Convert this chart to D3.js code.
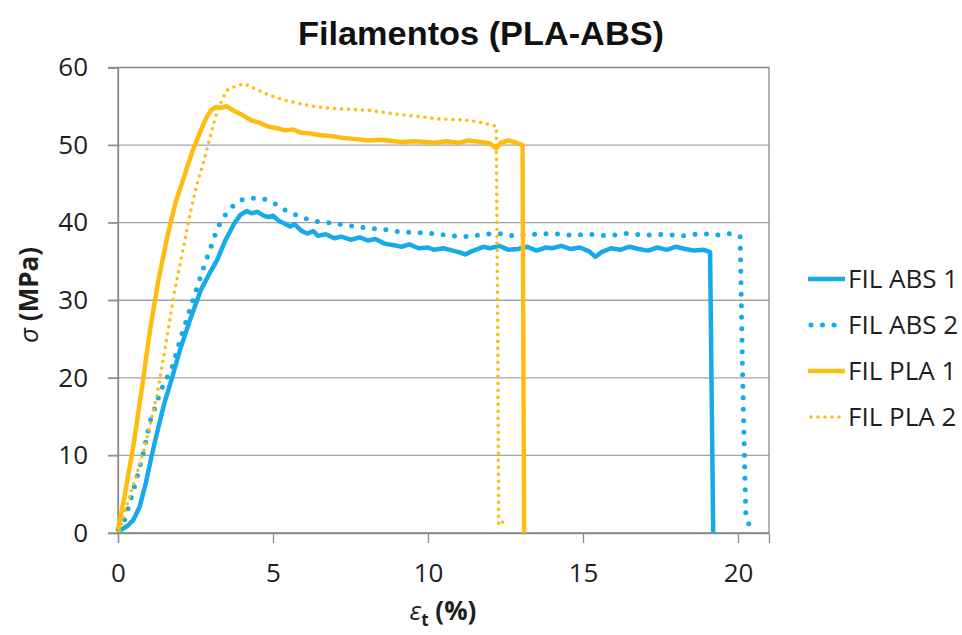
<!DOCTYPE html>
<html>
<head>
<meta charset="utf-8">
<script src="https://cdn.jsdelivr.net/npm/d3@7"></script>
<style>
  body { margin: 0; background: #fff; }
</style>
</head>
<body>
<div id="plt"></div>
<script>
// series names and tick values
var seriesNames = ["FIL ABS 1", "FIL ABS 2", "FIL PLA 1", "FIL PLA 2"];
var xTicks = [0, 5, 10, 15, 20];
var yTicks = [0, 10, 20, 30, 40, 50, 60];

// [strain %, stress MPa]
var abs1 = [[0,0.3],[0.1,0.4],[0.3,0.9],[0.5,1.7],[0.7,3.4],[0.9,6.5],[1.1,10.2],[1.3,13.6],[1.5,16.8],[1.75,20.1],
  [2.0,23.6],[2.3,27.2],[2.67,31.3],[3.0,33.8],[3.2,35.2],[3.45,37.6],[3.75,39.9],[3.95,41.0],[4.15,41.5],[4.3,41.2],
  [4.5,41.4],[4.7,40.9],[4.85,40.7],[5.0,40.9],[5.2,40.2],[5.37,39.9],[5.55,39.5],[5.7,39.8],[5.9,39.0],[6.1,38.6],
  [6.3,38.9],[6.45,38.3],[6.7,38.5],[6.98,38.0],[7.2,38.2],[7.5,37.8],[7.8,38.1],[8.06,37.7],[8.3,37.9],[8.6,37.3],
  [8.9,37.1],[9.14,36.9],[9.4,37.2],[9.7,36.7],[10.0,36.8],[10.2,36.5],[10.5,36.7],[10.8,36.4],[11.0,36.2],[11.2,35.9],
  [11.4,36.3],[11.6,36.6],[11.8,36.9],[12.0,36.7],[12.3,37.0],[12.6,36.5],[12.9,36.6],[13.2,36.9],[13.5,36.4],[13.8,36.8],
  [14.0,36.7],[14.3,37.0],[14.6,36.6],[14.9,36.8],[15.2,36.3],[15.4,35.6],[15.6,36.2],[15.9,36.7],[16.2,36.5],[16.5,36.9],
  [16.8,36.6],[17.1,36.4],[17.4,36.8],[17.7,36.5],[18.0,36.9],[18.3,36.6],[18.6,36.4],[18.9,36.5],[19.1,36.2],[19.2,0]];

var abs2 = [[0,0.5],[0.2,1.5],[0.5,5.5],[0.8,10.0],[1.05,14.6],[1.4,18.5],[1.75,21.4],[2.05,25.5],[2.35,29.2],[2.7,33.5],
  [3.0,36.9],[3.2,39.2],[3.42,40.8],[3.7,42.1],[3.96,42.9],[4.2,43.2],[4.5,43.1],[4.75,43.0],[5.04,42.5],[5.3,41.8],
  [5.6,41.2],[5.9,40.8],[6.2,40.3],[6.5,40.1],[6.98,39.9],[7.5,39.6],[8.06,39.3],[8.6,39.1],[9.14,38.8],[9.7,38.7],
  [10.2,38.6],[10.7,38.3],[11.3,38.2],[11.8,38.5],[12.3,38.6],[12.8,38.3],[13.4,38.5],[14.0,38.6],[14.6,38.4],[15.2,38.5],
  [15.8,38.3],[16.4,38.6],[17.0,38.4],[17.6,38.5],[18.2,38.3],[18.8,38.6],[19.4,38.4],[19.8,38.6],[20.07,38.2],[20.15,20.0],
  [20.25,2.6],[20.36,1.0]];

var pla1 = [[0,0.4],[0.2,4.5],[0.51,11.6],[0.8,19.5],[1.05,26.6],[1.3,32.5],[1.59,38.2],[1.85,42.5],[2.13,45.9],[2.4,49.2],
  [2.67,51.9],[2.85,53.5],[3.0,54.5],[3.15,54.9],[3.32,54.8],[3.5,55.0],[3.75,54.4],[4.0,53.9],[4.29,53.2],[4.55,52.9],
  [4.83,52.4],[5.1,52.2],[5.4,51.9],[5.65,52.0],[5.9,51.6],[6.2,51.5],[6.5,51.3],[6.98,51.1],[7.3,50.9],[7.6,50.8],
  [8.06,50.6],[8.5,50.7],[9.14,50.4],[9.6,50.5],[10.2,50.3],[10.6,50.5],[11.0,50.3],[11.3,50.6],[11.7,50.4],[12.0,50.2],
  [12.2,49.6],[12.35,50.3],[12.6,50.6],[12.85,50.3],[13.05,50.0],[13.1,0]];

var pla2 = [[0.05,0.3],[0.3,3.8],[0.6,7.5],[0.84,10.7],[1.05,14.2],[1.27,18.0],[1.55,24.5],[1.81,30.9],[2.1,36.6],[2.35,41.6],
  [2.55,45.0],[2.78,48.1],[3.0,51.5],[3.21,54.5],[3.4,56.2],[3.53,57.1],[3.8,57.6],[4.07,57.9],[4.3,57.5],[4.5,57.1],
  [4.9,56.4],[5.37,55.8],[5.9,55.3],[6.45,54.9],[7.0,54.7],[7.5,54.6],[8.06,54.5],[8.6,54.2],[9.14,53.9],[9.7,53.7],
  [10.2,53.4],[10.8,53.3],[11.3,53.2],[11.7,52.9],[12.05,52.6],[12.2,52.4],[12.25,26],[12.28,1.0],[12.4,1.3],[12.45,2.0]];

var seriesData = [abs1, abs2, pla1, pla2];

// styles per series
var blue = "#16abe8", gold = "#fdbd10";
var styles = [
  {color: blue, width: 4.5, dash: null},
  {color: blue, width: 5, dash: "0,11.5"},
  {color: gold, width: 4.5, dash: null},
  {color: gold, width: 3.6, dash: "0,7"}
];

var margin = {top: 67.5, right: 193, bottom: 102, left: 118};
var W = 962, H = 635;
var width = W - margin.left - margin.right;
var height = H - margin.top - margin.bottom;
var labelFont = "'Open Sans', 'Liberation Sans', sans-serif";

var svg = d3.select("#plt")
            .append("svg")
            .attr("width", W)
            .attr("height", H)
            .style("font-family", labelFont);

var g = svg.append("g")
           .attr("transform", "translate(" + margin.left + "," + margin.top + ")");

var x = d3.scaleLinear().domain([0, 21]).range([0, width]);
var y = d3.scaleLinear().domain([0, 60]).range([height, 0]);

// gridlines
g.selectAll(".grid")
 .data(yTicks)
 .enter()
 .append("line")
 .attr("x1", -10)
 .attr("x2", width)
 .attr("y1", function(d) { return y(d); })
 .attr("y2", function(d) { return y(d); })
 .attr("stroke", "#a3a3a3")
 .attr("stroke-width", 1.3);

// plot border
g.append("rect")
 .attr("width", width)
 .attr("height", height)
 .attr("fill", "none")
 .attr("stroke", "#8c8c8c")
 .attr("stroke-width", 1.3);

// y axis
var yAxis = g.append("g")
  .call(d3.axisLeft(y).tickValues(yTicks).tickSize(10).tickPadding(20));
yAxis.select(".domain").attr("stroke", "#8c8c8c").attr("stroke-width", 1.3);
yAxis.selectAll(".tick line").attr("stroke", "#8c8c8c").attr("stroke-width", 1.3);
yAxis.selectAll("text").style("font-size", "26px").style("font-family", labelFont).attr("fill", "#1e1e1e");

// x axis
var xAxis = g.append("g")
  .attr("transform", "translate(0," + height + ")")
  .call(d3.axisBottom(x).tickValues(xTicks).tickSize(10).tickPadding(21));
xAxis.select(".domain").attr("stroke", "#8c8c8c").attr("stroke-width", 1.3);
xAxis.selectAll(".tick line").attr("stroke", "#8c8c8c").attr("stroke-width", 1.3);
xAxis.selectAll("text").style("font-size", "26px").style("font-family", labelFont).attr("fill", "#1e1e1e");

// curves
var line = d3.line()
  .x(function(d) { return x(d[0]); })
  .y(function(d) { return y(d[1]); });

seriesData.forEach(function(data, i) {
  var s = styles[i];
  g.append("path")
   .datum(data)
   .attr("d", line)
   .attr("fill", "none")
   .attr("stroke", s.color)
   .attr("stroke-width", s.width)
   .attr("stroke-linejoin", "round")
   .attr("stroke-linecap", s.dash ? "round" : "butt")
   .attr("stroke-dasharray", s.dash);
});

// title
svg.append("text")
   .attr("x", 481)
   .attr("y", 45)
   .attr("text-anchor", "middle")
   .style("font-family", "'Liberation Sans', Arial, sans-serif")
   .style("font-weight", "bold")
   .style("font-size", "34px")
   .attr("fill", "#111")
   .attr("textLength", 366)
   .attr("lengthAdjust", "spacingAndGlyphs")
   .text("Filamentos (PLA-ABS)");

// x axis title
var xt = svg.append("text")
   .attr("x", 443)
   .attr("y", 620)
   .attr("text-anchor", "middle")
   .attr("fill", "#1e1e1e")
   .style("font-size", "26px")
   .style("font-weight", "bold");
xt.append("tspan").style("font-style", "italic").style("font-weight", "normal").text("ε");
xt.append("tspan").style("font-size", "17px").attr("dy", 6).text("t");
xt.append("tspan").attr("dy", -6).text(" (%)");

// y axis title
var yt = svg.append("text")
   .attr("transform", "translate(38,295) rotate(-90)")
   .attr("text-anchor", "middle")
   .attr("fill", "#1e1e1e")
   .style("font-size", "26px")
   .style("font-weight", "bold");
yt.append("tspan").style("font-style", "italic").style("font-weight", "normal").text("σ");
yt.append("tspan").text(" (MPa)");

// legend
var legend = svg.selectAll(".legend")
  .data(seriesNames)
  .enter()
  .append("g")
  .attr("transform", function(d, i) { return "translate(808," + (279 + i * 46) + ")"; });

legend.append("line")
  .attr("x1", function(d, i) { return styles[i].dash ? 3 : 0; })
  .attr("x2", 37)
  .attr("stroke", function(d, i) { return styles[i].color; })
  .attr("stroke-width", function(d, i) { return styles[i].width; })
  .attr("stroke-linecap", function(d, i) { return styles[i].dash ? "round" : "butt"; })
  .attr("stroke-dasharray", function(d, i) { return styles[i].dash; });

legend.append("text")
  .attr("x", 40)
  .attr("y", 9)
  .attr("fill", "#1e1e1e")
  .style("font-size", "26px")
  .text(function(d) { return d; });
</script>
</body>
</html>
